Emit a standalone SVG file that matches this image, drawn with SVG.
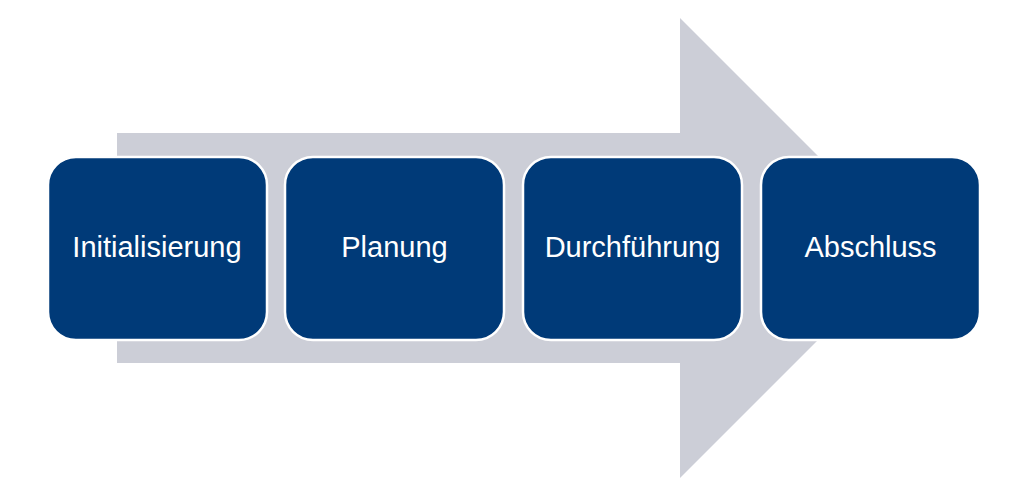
<svg xmlns="http://www.w3.org/2000/svg" width="1009" height="490" viewBox="0 0 1009 490">
<style>
.box{fill:#003A78;stroke:#ffffff;stroke-width:2.5}
.lbl{font-family:"Liberation Sans",Arial,sans-serif;font-size:29px;fill:#ffffff;text-anchor:middle}
</style>
<rect width="1009" height="490" fill="#ffffff"/>
<g id="arrow">
<polygon points="117,133 680,133 680,18 910,248 680,478 680,363 117,363" fill="#CCCED7"/>
</g>
<g id="connectors"></g>
<g id="n1"><rect class="box" x="48" y="157" width="219" height="183" rx="28"/><text class="lbl" x="157" y="257">Initialisierung</text></g>
<g id="n2"><rect class="box" x="285" y="157" width="219" height="183" rx="28"/><text class="lbl" x="394.5" y="257">Planung</text></g>
<g id="n3"><rect class="box" x="523" y="157" width="219" height="183" rx="28"/><text class="lbl" x="632.5" y="257">Durchführung</text></g>
<g id="n4"><rect class="box" x="761" y="157" width="219" height="183" rx="28"/><text class="lbl" x="870.5" y="257">Abschluss</text></g>
</svg>
